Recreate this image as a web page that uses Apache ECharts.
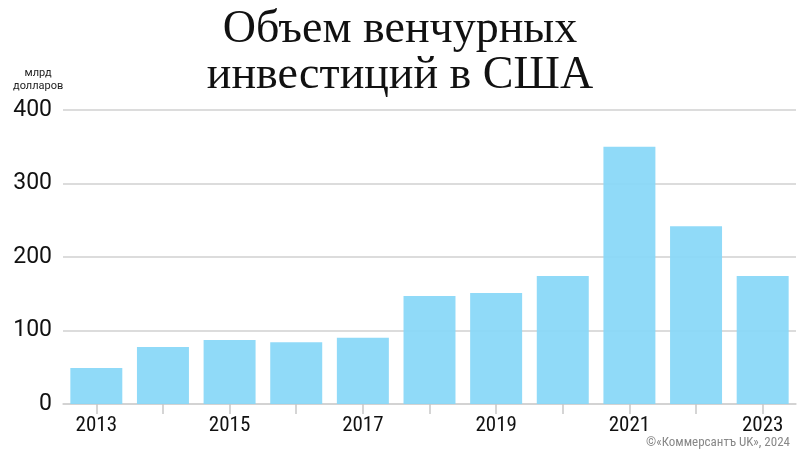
<!DOCTYPE html>
<html><head><meta charset="utf-8">
<script src="https://cdn.jsdelivr.net/npm/echarts@6/dist/echarts.min.js"></script>
<style>html,body{margin:0;padding:0;background:#fff}#c{width:800px;height:458px}</style>
</head><body><div id="c"></div>
<script>
const years = ['2013','2014','2015','2016','2017','2018','2019','2020','2021','2022','2023'];
const values = [49, 77.5, 87, 84, 90, 147, 151, 174, 350, 242, 174];
const yTicks = [0, 100, 200, 300, 400];
const titleText = 'Объем венчурных\nинвестиций в США';
const unitText = 'млрд\nдолларов';
const creditText = '©«Коммерсантъ UK», 2024';

const chart = echarts.init(document.getElementById('c'), null, {renderer:'canvas'});
chart.setOption({
  animation:false,
  backgroundColor:'#fff',
  title:{text:titleText, left:'center', top:2,
    textStyle:{fontFamily:'Liberation Serif', fontWeight:'normal', fontSize:46, lineHeight:46, color:'#111'}},
  graphic:[
    {type:'text', left:13, top:67, style:{text:unitText, fontFamily:'Roboto', fontSize:11, lineHeight:13, fill:'#222', textAlign:'center'}},
    {type:'text', right:10, top:436, style:{text:creditText, fontFamily:'Liberation Sans Narrow, Roboto Condensed, Roboto', fontSize:13, fill:'#888'}}
  ],
  grid:{left:63, right:4, top:110, bottom:54, containLabel:false},
  xAxis:{type:'category', data:years,
    axisLine:{lineStyle:{color:'#d0d0d0', width:1.5}},
    axisTick:{show:true, alignWithLabel:true, interval:0, length:10, lineStyle:{color:'#c8c8c8', width:1.5}},
    axisLabel:{interval:1, fontFamily:'Liberation Sans Narrow, Roboto Condensed, Roboto', fontSize:21, color:'#111', margin:11}},
  yAxis:{type:'value', min:0, max:400, interval:100,
    axisLine:{show:false}, axisTick:{show:false},
    splitLine:{lineStyle:{color:'#d0d0d0', width:1.5}},
    axisLabel:{fontFamily:'Roboto', fontSize:23, color:'#111', margin:11,
      formatter:v=>yTicks.includes(v)?String(v):''}},
  series:[{type:'bar', data:values, barCategoryGap:'22%',
    itemStyle:{color:'#87D7F7', opacity:0.92}, z:1}]
});
</script></body></html>
